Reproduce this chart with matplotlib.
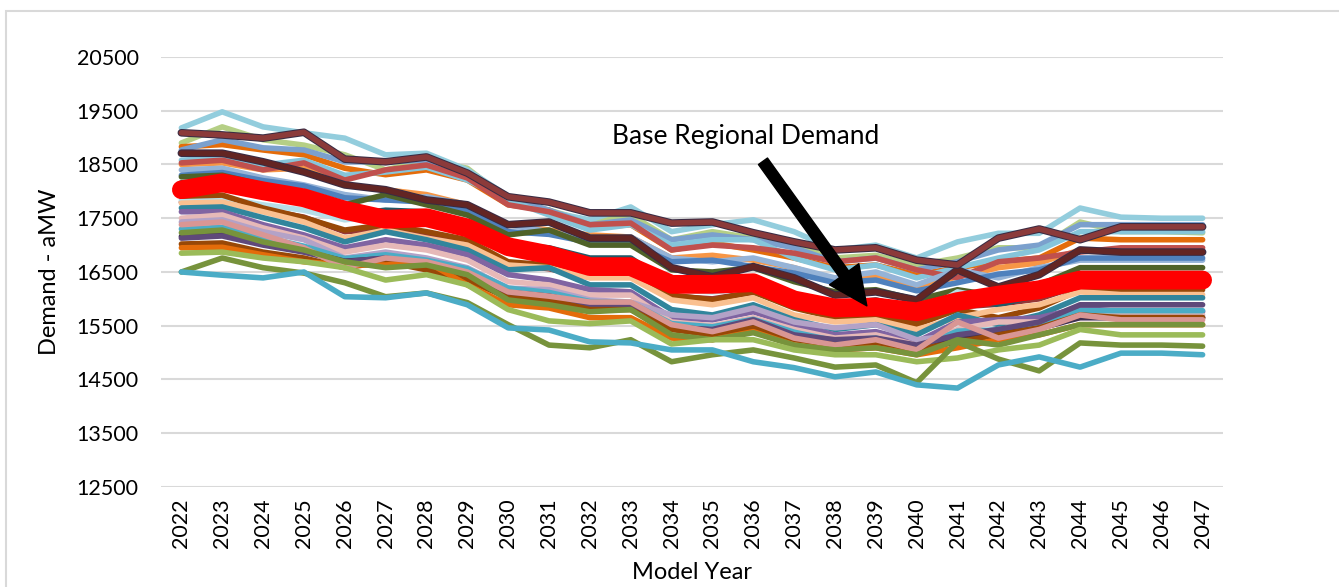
import numpy as np
import matplotlib
matplotlib.use("Agg")
import matplotlib.pyplot as plt
import matplotlib.patheffects as pe
from matplotlib.patches import Rectangle

plt.rcParams['font.family'] = ['Lato', 'DejaVu Sans']

years = [str(y) for y in range(2022, 2048)]

# scenario demand paths (aMW)
light_blue_hi = [19180, 19480, 19200, 19090, 18990, 18680, 18710, 18400, 17910, 17620, 17470, 17710, 17250, 17380, 17470, 17250, 16910, 17000, 16760, 17060, 17220, 17220, 17690, 17520, 17500, 17500]
green_hi = [18900, 19200, 18960, 18860, 18680, 18400, 18580, 18430, 17840, 17650, 17430, 17560, 17100, 17250, 17130, 17000, 16760, 16810, 16630, 16760, 16950, 16950, 17430, 17250, 17250, 17230]
orange_hi = [18830, 18870, 18770, 18680, 18430, 18310, 18400, 18210, 17750, 17650, 17320, 17380, 16910, 17040, 16910, 16760, 16580, 16630, 16450, 16580, 16690, 16760, 17130, 17100, 17100, 17100]
blue_hi = [18770, 18960, 18810, 18770, 18550, 18550, 18580, 18300, 17880, 17650, 17380, 17470, 17100, 17190, 17100, 16950, 16690, 16760, 16540, 16690, 16910, 17000, 17380, 17380, 17380, 17380]
cyan_hi = [18580, 18620, 18490, 18580, 18300, 18360, 18450, 18210, 17840, 17560, 17280, 17380, 17000, 17100, 17100, 16760, 16540, 16630, 16390, 16580, 16760, 16910, 17250, 17250, 17250, 17250]
red_hi = [18530, 18580, 18400, 18530, 18210, 18400, 18490, 18250, 17750, 17620, 17380, 17410, 16910, 17000, 16950, 16850, 16690, 16760, 16540, 16390, 16690, 16760, 16870, 16950, 16950, 16950]
light_orange = [18500, 18530, 18400, 18430, 18120, 18030, 17940, 17750, 17380, 17280, 17190, 17150, 16760, 16810, 16720, 16580, 16350, 16440, 16220, 16410, 16580, 16670, 16910, 16870, 16870, 16870]
steel_blue = [18400, 18430, 18250, 18120, 17940, 17840, 17900, 17750, 17380, 17250, 17100, 17150, 16760, 16690, 16760, 16580, 16390, 16500, 16260, 16540, 16390, 16580, 16720, 16720, 16720, 16720]
mid_blue = [18300, 18350, 18200, 18100, 17880, 17840, 17800, 17660, 17250, 17200, 17050, 17020, 16690, 16720, 16600, 16480, 16300, 16350, 16150, 16300, 16460, 16540, 16760, 16760, 16760, 16760]
dark_green = [18270, 18300, 18120, 17970, 17750, 17940, 17750, 17560, 17190, 17280, 17000, 17000, 16540, 16500, 16580, 16320, 16130, 16170, 15980, 16170, 16050, 16260, 16580, 16580, 16580, 16580]
dark_teal = [18160, 18210, 17970, 17840, 17560, 17650, 17620, 17430, 17000, 16950, 16760, 16760, 16260, 16220, 16350, 16040, 15890, 15980, 15800, 16020, 15890, 16070, 16260, 16260, 16260, 16260]
light_cyan = [17840, 17880, 17750, 17650, 17470, 17560, 17430, 17280, 16910, 16820, 16690, 16690, 16170, 16130, 16200, 15980, 15830, 15890, 15700, 16130, 15980, 16170, 16390, 16390, 16390, 16390]
dark_red = [17800, 17850, 17660, 17520, 17250, 17300, 17180, 17000, 16650, 16560, 16400, 16420, 16050, 16000, 16120, 15880, 15700, 15760, 15580, 15850, 15900, 16000, 16250, 16250, 16250, 16250]
brown_hi = [17910, 17930, 17690, 17510, 17280, 17380, 17250, 17100, 16690, 16630, 16540, 16500, 16070, 15980, 16130, 15830, 15650, 15700, 15520, 15800, 15650, 15830, 16170, 16170, 16170, 16170]
peach = [17780, 17800, 17620, 17430, 17130, 17280, 17130, 17000, 16630, 16580, 16390, 16390, 15980, 15890, 16020, 15700, 15570, 15610, 15430, 15650, 15800, 15890, 16130, 16080, 16080, 16080]
teal = [17690, 17710, 17510, 17320, 17060, 17250, 17100, 16910, 16540, 16580, 16260, 16260, 15800, 15700, 15890, 15610, 15430, 15520, 15330, 15700, 15520, 15700, 16020, 16020, 16020, 16020]
purple = [17620, 17620, 17380, 17190, 16950, 17100, 17000, 16820, 16450, 16350, 16170, 16130, 15650, 15610, 15760, 15520, 15330, 15390, 15200, 15570, 15610, 15650, 15830, 15760, 15760, 15760]
pink_light = [17500, 17560, 17320, 17130, 16870, 17000, 16910, 16720, 16320, 16260, 16070, 16070, 15570, 15500, 15650, 15430, 15270, 15330, 15140, 15430, 15570, 15570, 15700, 15700, 15700, 15700]
lavender = [17430, 17470, 17250, 17100, 16760, 16870, 16760, 16580, 16200, 16170, 15980, 15940, 15700, 15650, 15830, 15570, 15460, 15520, 15240, 15330, 15430, 15520, 15650, 15650, 15650, 15650]
pink = [17380, 17430, 17190, 16950, 16580, 16760, 16690, 16500, 16130, 16050, 15940, 15940, 15520, 15390, 15570, 15270, 15140, 15240, 15050, 15570, 15270, 15430, 15700, 15610, 15610, 15610]
teal_mid = [17300, 17330, 17150, 16980, 16750, 16820, 16720, 16560, 16200, 16120, 15950, 15930, 15540, 15480, 15620, 15380, 15220, 15270, 15090, 15400, 15420, 15520, 15780, 15780, 15780, 15780]
olive_mid = [17230, 17280, 17060, 16910, 16690, 16580, 16630, 16450, 15980, 15890, 15760, 15800, 15330, 15240, 15370, 15140, 15050, 15090, 14960, 15240, 15140, 15330, 15520, 15520, 15520, 15520]
navy = [17160, 17190, 17020, 16880, 16700, 16750, 16640, 16480, 16120, 16050, 15900, 15880, 15480, 15420, 15550, 15300, 15150, 15200, 15000, 15280, 15350, 15450, 15650, 15650, 15650, 15650]
dark_purple = [17130, 17170, 17000, 16870, 16690, 16760, 16630, 16450, 16070, 16020, 15890, 15890, 15460, 15430, 15610, 15330, 15240, 15270, 15140, 15330, 15430, 15570, 15890, 15890, 15890, 15890]
brown_lo = [17020, 17040, 16870, 16760, 16580, 16690, 16540, 16350, 16020, 15980, 15800, 15800, 15430, 15330, 15460, 15240, 15140, 15180, 15050, 15200, 15330, 15460, 15700, 15650, 15650, 15650]
orange_lo = [16950, 16960, 16820, 16690, 16630, 16630, 16690, 16260, 15890, 15830, 15650, 15650, 15270, 15240, 15390, 15140, 15050, 15090, 14960, 15090, 15240, 15330, 15520, 15520, 15520, 15520]
green_lo = [16850, 16870, 16760, 16690, 16580, 16350, 16450, 16260, 15800, 15590, 15540, 15590, 15160, 15240, 15240, 15050, 14960, 14960, 14830, 14900, 15050, 15140, 15430, 15330, 15330, 15330]
olive_lo = [16500, 16760, 16580, 16480, 16300, 16040, 16110, 15930, 15520, 15140, 15090, 15240, 14830, 14960, 15050, 14900, 14730, 14770, 14440, 15200, 14880, 14660, 15180, 15140, 15140, 15120]
cyan_lo = [16500, 16440, 16390, 16500, 16040, 16020, 16110, 15890, 15460, 15420, 15200, 15180, 15050, 15050, 14830, 14720, 14550, 14640, 14400, 14340, 14770, 14920, 14730, 14990, 14990, 14960]
maroon_mid = [18710, 18710, 18550, 18360, 18120, 18030, 17840, 17750, 17380, 17430, 17130, 17130, 16580, 16410, 16600, 16390, 16070, 16130, 15980, 16540, 16220, 16450, 16910, 16870, 16870, 16870]
maroon_hi = [19090, 19050, 18990, 19100, 18600, 18550, 18640, 18340, 17900, 17800, 17600, 17600, 17410, 17430, 17230, 17060, 16910, 16950, 16720, 16630, 17130, 17300, 17100, 17340, 17340, 17340]
base_demand = [18030, 18160, 18010, 17880, 17650, 17480, 17510, 17320, 16970, 16820, 16600, 16600, 16270, 16270, 16300, 15980, 15830, 15850, 15760, 15950, 16070, 16170, 16350, 16350, 16350, 16350]

scenarios = [
    (green_hi, '#B5CF85'), (light_blue_hi, '#93CDDD'), (orange_hi, '#E46C0A'),
    (blue_hi, '#7BA0CD'), (light_orange, '#F79646'), (cyan_hi, '#86C5DA'),
    (red_hi, '#C0504D'), (steel_blue, '#95B3D7'), (mid_blue, '#4F81BD'),
    (dark_green, '#4F6228'), (dark_red, '#953735'), (dark_teal, '#215968'),
    (light_cyan, '#B7DEE8'), (brown_hi, '#984807'), (peach, '#FAC090'),
    (teal, '#31859C'), (purple, '#8064A2'), (pink_light, '#E6B9B8'),
    (lavender, '#B3A2C7'), (teal_mid, '#4BACC6'), (navy, '#3F3151'),
    (dark_purple, '#5F497A'), (brown_lo, '#984807'), (orange_lo, '#E46C0A'),
    (pink, '#D99694'), (olive_mid, '#77933C'), (green_lo, '#9BBB59'),
    (olive_lo, '#77933C'), (cyan_lo, '#4BACC6'),
]

fig = plt.figure(figsize=(13.39, 5.87), dpi=100)
ax = fig.add_axes([0.1202, 0.1704, 0.7932, 0.7325])
x = np.arange(len(years))

for vals, col in scenarios:
    ax.plot(x, vals, color=col, lw=4, solid_joinstyle='round', solid_capstyle='round')

outline = [pe.Stroke(linewidth=5.5, foreground='#3A2C44'), pe.Normal()]
for vals, col in [(maroon_mid, '#632523'), (maroon_hi, '#8B3A3A')]:
    ax.plot(x, vals, color=col, lw=4, solid_joinstyle='round',
            solid_capstyle='round', path_effects=outline)

ax.plot(x, base_demand, color='#FF0000', lw=13.5, solid_joinstyle='round',
        solid_capstyle='round')

ax.set_xlim(-0.5, len(years) - 0.5)
ax.set_ylim(12500, 20500)
ax.set_yticks(np.arange(12500, 20501, 1000))
ax.set_xticks(x)
ax.set_xticklabels(years, rotation=90)
ax.tick_params(axis='both', length=0, labelsize=15.5)
ax.tick_params(axis='y', pad=16)
ax.tick_params(axis='x', pad=8)
ax.grid(axis='y', color='#D9D9D9', lw=1.5)
ax.set_axisbelow(True)
for s in ax.spines.values():
    s.set_visible(False)

ax.set_xlabel('Model Year', fontsize=17, labelpad=10)
ax.set_ylabel('Demand - aMW', fontsize=17, labelpad=12)

ax.annotate('Base Regional Demand', xy=(16.78, 15870), xytext=(13.81, 19012),
            fontsize=19, ha='center', va='center',
            arrowprops=dict(arrowstyle='simple,head_length=1.4,head_width=1.3,tail_width=0.4',
                            color='black', mutation_scale=20,
                            shrinkA=8, shrinkB=0))

fig.patches.append(Rectangle((6 / 1339, -0.1), 1.2, 1.1 - 11 / 587,
                             transform=fig.transFigure, fill=False,
                             edgecolor='#D9D9D9', lw=1.5))

fig.savefig('out.png', dpi=100)
